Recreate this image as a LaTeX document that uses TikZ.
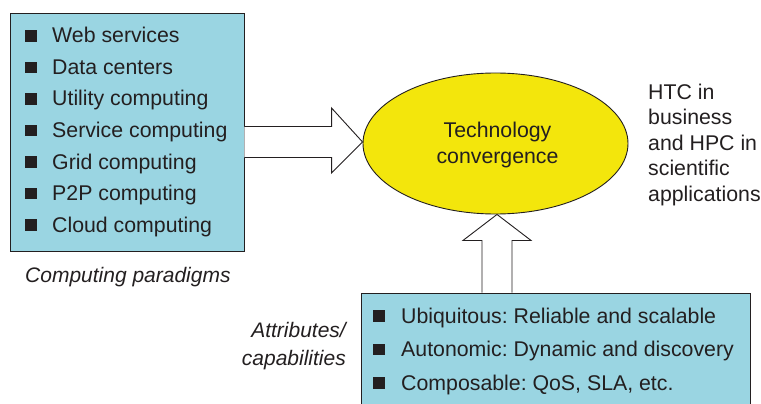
\documentclass[tikz,border=0pt]{standalone}
\usepackage{fontspec}
\setmainfont{Liberation Sans}
\usetikzlibrary{calc,shapes.geometric}
\definecolor{boxblue}{RGB}{154,213,226}
\definecolor{ellyellow}{RGB}{243,230,12}
\definecolor{ink}{RGB}{35,31,32}
\frenchspacing
\begin{document}
\begin{tikzpicture}[x=1pt,y=-1pt,
  every node/.style={font=\fontsize{21.3}{25.5}\selectfont, text=ink},
  panel/.style={draw=ink, line width=0.9pt, fill=boxblue, rectangle, inner sep=0},
  bulletsq/.style={fill=ink, rectangle, minimum size=11.5pt, inner sep=0},
  item/.style={anchor=base west, inner sep=0},
  blockarrow/.style={draw=ink, line width=0.9pt, fill=white, line join=miter},
  caption/.style={font=\fontsize{21}{28}\selectfont\itshape, inner sep=0}]
\useasboundingbox (0,0) rectangle (761,404);
\clip (0,0) rectangle (761,404);
% left panel
\node[panel, minimum width=234pt, minimum height=238pt] (para) at (127,132) {};
\foreach \t [count=\i] in {Web services, Data centers, Utility computing, Service computing, Grid computing, P2P computing, Cloud computing} {
  \node[item] (p\i) at (52, {43+(\i-1)*31.5}) {\t};
  \node[bulletsq] (pb\i) at (31, {35.8+(\i-1)*31.5}) {};
}
% ellipse
\node[ellipse, draw=ink, line width=0.9pt, fill=ellyellow, minimum width=265pt, minimum height=141pt, inner sep=0] (tech) at (495.5,143.5) {};
\node[align=center, anchor=base, inner sep=0] (techlabel) at (497.5,163) {Technology\\convergence};
% bottom panel
\node[panel, minimum width=389pt, minimum height=140pt] (attr) at (555.5,363) {};
\foreach \t [count=\i] in {Ubiquitous: Reliable and scalable, Autonomic: Dynamic and discovery, {Composable: QoS, SLA, etc.}} {
  \node[item] (a\i) at (401, {323+(\i-1)*33.5}) {\t};
  \node[bulletsq] (ab\i) at (379, {316+(\i-1)*33.5}) {};
}
% right block arrow
\coordinate (tip) at ($(tech.west)+(0,-1.5)$);
\draw[blockarrow] ($(para.east |- tip)+(0,-15.5)$) -- ($(tip)+(-31,-15.5)$) -- ($(tip)+(-31,-34)$) -- (tip)
  -- ($(tip)+(-31,31)$) -- ($(tip)+(-31,15.5)$) -- ($(para.east |- tip)+(0,15.5)$);
% up block arrow
\coordinate (utip) at ($(tech.south)+(1.5,0)$);
\draw[blockarrow] ($(utip |- attr.north)+(-15,0)$) -- ($(utip)+(-15,26)$) -- ($(utip)+(-34,26)$) -- (utip)
  -- ($(utip)+(34,26)$) -- ($(utip)+(15,26)$) -- ($(utip |- attr.north)+(15,0)$);
% side texts
\node[anchor=base west, align=left, inner sep=0] (htc) at (648,201) {HTC in\\business\\and HPC in\\scientific\\applications};
\node[caption, anchor=base west] (cp) at (25,282) {Computing paradigms};
\node[caption, anchor=base east, align=right] (ac) at (346,365) {Attributes/\\capabilities};
\end{tikzpicture}
\end{document}
